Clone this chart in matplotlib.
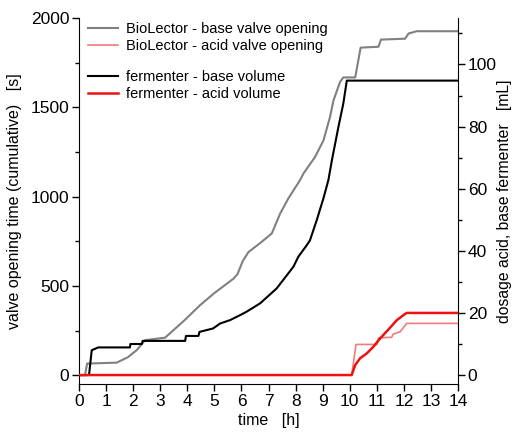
import numpy as np
import matplotlib
matplotlib.use("Agg")
import matplotlib.pyplot as plt
from matplotlib.ticker import MultipleLocator

plt.rcParams['font.family'] = ['Liberation Sans', 'DejaVu Sans']

# =============================================================================
# data
# =============================================================================
# BioLector cumulative valve opening time [s] (left axis)
bio_base_t = [0, 0.22, 0.3, 1.39, 1.8, 2.13, 2.44, 3.18, 3.9, 4.47, 5.0, 5.7,
              5.85, 6.05, 6.26, 6.69, 7.12, 7.43, 7.73, 8.16, 8.29, 8.72,
              9.03, 9.27, 9.4, 9.64, 9.76, 10.2, 10.4, 11.06, 11.15, 12.04,
              12.17, 12.47, 14]
bio_base_v = [0, 0, 65, 70, 100, 140, 196, 210, 308, 392, 460, 540,
              565, 640, 690, 740, 794, 906, 990, 1092, 1130, 1223,
              1316, 1447, 1540, 1643, 1668, 1668, 1835, 1840, 1880, 1885,
              1914, 1927, 1927]

bio_acid_t = [0, 10.07, 10.23, 11.0, 11.06, 11.55, 11.6, 11.86, 12.1, 14]
bio_acid_v = [0, 0, 172, 172, 209, 212, 230, 243, 290, 290]

# fermenter dosage volume [mL] (right axis)
ferm_base_t = [0, 0.37, 0.47, 0.71, 1.88, 1.9, 2.32, 2.35, 3.92, 3.95, 4.41,
               4.45, 4.95, 5.21, 5.58, 5.95, 6.19, 6.69, 7.3, 7.92, 8.1, 8.41,
               8.53, 8.78, 9.03, 9.21, 9.34, 9.58, 9.76, 9.89, 14]
ferm_base_v = [0, 0, 8.0, 8.9, 8.9, 10.0, 10.0, 11.0, 11.0, 12.6, 12.6,
               13.9, 15.0, 16.6, 17.7, 19.3, 20.4, 23.1, 27.9, 34.9, 38.1, 41.8,
               43.4, 49.9, 57.0, 62.8, 69.2, 79.9, 87.4, 94.8, 94.8]

ferm_acid_t = [0, 10.07, 10.2, 10.38, 10.63, 10.87, 11.12, 11.43, 11.74,
               11.98, 12.1, 14]
ferm_acid_v = [0, 0, 3.2, 5.4, 7.0, 9.1, 11.8, 14.7, 17.7, 19.3, 20.0, 20.0]

labels = ['BioLector - base valve opening', 'BioLector - acid valve opening',
          'fermenter - base volume', 'fermenter - acid volume']

# =============================================================================
# plot
# =============================================================================
fig = plt.figure(figsize=(5.13, 4.33), dpi=100)
ax = fig.add_axes([0.154, 0.113, 0.739, 0.845])
ax2 = ax.twinx()

l1, = ax.plot(bio_base_t, bio_base_v, color='#808080', lw=1.5)
l2, = ax.plot(bio_acid_t, bio_acid_v, color='#f07c7c', lw=1.2)
l3, = ax2.plot(ferm_base_t, ferm_base_v, color='black', lw=1.5)
l4, = ax2.plot(ferm_acid_t, ferm_acid_v, color='#ee1111', lw=1.8)

ax.set_xlim(0, 14)
ax.set_ylim(-50, 2000)
ax2.set_ylim(-2.9, 114.9)

ax.xaxis.set_major_locator(MultipleLocator(1))
ax.yaxis.set_major_locator(MultipleLocator(500))
ax.yaxis.set_minor_locator(MultipleLocator(250))
ax2.yaxis.set_major_locator(MultipleLocator(20))
ax2.yaxis.set_minor_locator(MultipleLocator(10))

for a in (ax, ax2):
    a.spines['top'].set_visible(False)
    a.tick_params(direction='out', length=5, width=1, labelsize=12.5, pad=2)
    a.tick_params(which='minor', direction='out', length=3, width=1)
ax2.spines['left'].set_visible(False)
ax2.spines['bottom'].set_visible(False)
ax.spines['right'].set_visible(False)

ax.set_xlabel('time   [h]', fontsize=11.5, labelpad=3)
ax.set_ylabel('valve opening time (cumulative)   [s]', fontsize=11.5, labelpad=6)
ax2.set_ylabel('dosage acid, base fermenter   [mL]', fontsize=11.3, labelpad=0)

leg1 = ax2.legend([l1, l2], labels[:2], loc='upper left',
                  bbox_to_anchor=(0.157, 0.965), bbox_transform=fig.transFigure,
                  frameon=False, fontsize=10.5, handlelength=2.1,
                  handletextpad=0.5, labelspacing=0.2, borderpad=0)
ax2.add_artist(leg1)
ax2.legend([l3, l4], labels[2:], loc='upper left',
           bbox_to_anchor=(0.157, 0.855), bbox_transform=fig.transFigure,
           frameon=False, fontsize=10.5, handlelength=2.1,
           handletextpad=0.5, labelspacing=0.2, borderpad=0)

plt.savefig('out.png', dpi=100)
